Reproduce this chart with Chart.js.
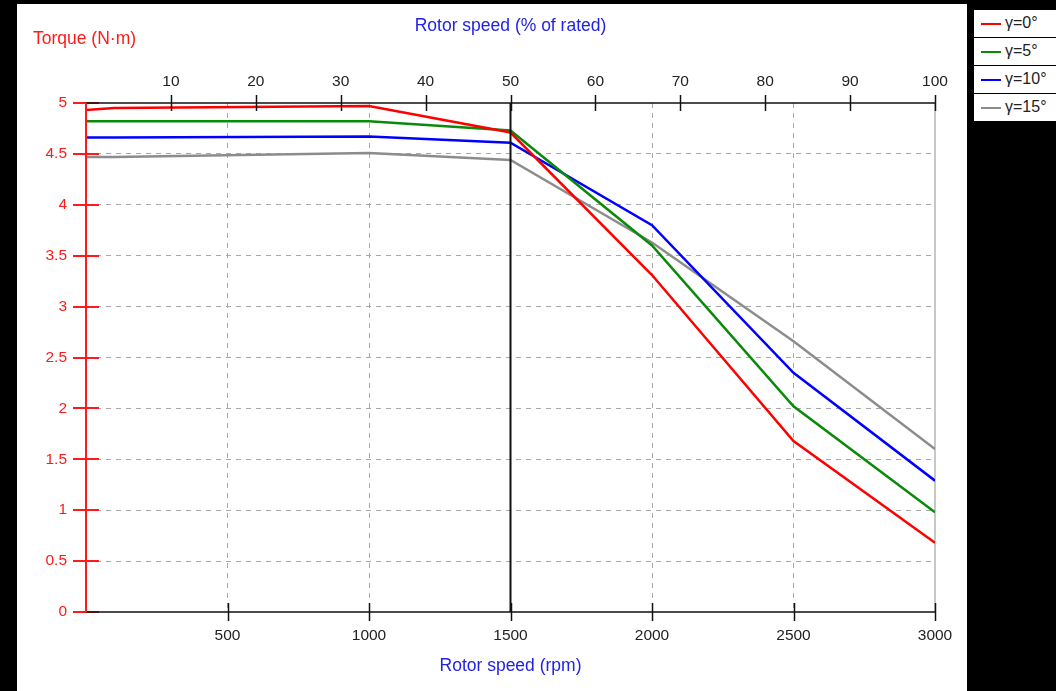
<!DOCTYPE html>
<html>
<head>
<meta charset="utf-8">
<script src="https://cdn.jsdelivr.net/npm/chart.js@4/dist/chart.umd.min.js"></script>
<style>
  html, body { margin: 0; padding: 0; background: #000; width: 1056px; height: 691px; overflow: hidden; }
  #wrap { position: absolute; left: 17px; top: 4px; width: 950px; height: 687px; background: #fff; }
  #legend { position: absolute; left: 973px; top: 9px; width: 100px; background: #fff; border: 1px solid #000;
            font-family: "Liberation Sans", Arial, sans-serif; font-size: 16px; color: #222; }
  #legend .row { height: 27px; border-bottom: 1px solid #000; position: relative; }
  #legend .row:last-child { border-bottom: none; }
  #legend .swatch { position: absolute; left: 7px; top: 13px; width: 20px; height: 2px; }
  #legend .lbl { position: absolute; left: 31px; top: 4px; }
</style>
</head>
<body>
<div id="wrap"><canvas id="torqueChart"></canvas></div>
<div id="legend"></div>
<script>
// rotor speed (rpm) and torque (N·m) per load angle
const speeds = [0, 100, 1000, 1500, 2000, 2500, 3000];
const torque0 = [4.93, 4.95, 4.97, 4.71, 3.31, 1.68, 0.68];
const torque5 = [4.82, 4.82, 4.82, 4.73, 3.60, 2.02, 0.98];
const torque10 = [4.66, 4.66, 4.67, 4.61, 3.80, 2.35, 1.29];
const torque15 = [4.47, 4.47, 4.51, 4.44, 3.63, 2.66, 1.60];
const seriesLabels = ['γ=0°', 'γ=5°', 'γ=10°', 'γ=15°'];
const seriesColors = ['#ff0000', '#0a8a0a', '#0000ff', '#8c8c8c'];
const ratedSpeed = 3000;
const markerSpeed = 1500;

const FONT = '"Liberation Sans", Arial, sans-serif';
const TEXT = '#222';
const BLUE = '#2222e6';
const RED = '#ff1a1a';

const allTorque = [torque0, torque5, torque10, torque15];
const datasets = allTorque.map((vals, i) => ({
    label: seriesLabels[i],
    data: speeds.map((s, j) => ({ x: s, y: vals[j] })),
    borderColor: seriesColors[i],
    backgroundColor: seriesColors[i],
    borderWidth: 2.5,
    pointRadius: 0,
    tension: 0,
    fill: false
}));

// legend box on the right
const legendEl = document.getElementById('legend');
seriesLabels.forEach((lab, i) => {
    const row = document.createElement('div');
    row.className = 'row';
    row.innerHTML = '<span class="swatch" style="background:' + seriesColors[i] + '"></span><span class="lbl">' + lab + '</span>';
    legendEl.appendChild(row);
});

// axes, crossing ticks, marker line and titles
const axesPlugin = {
    id: 'axesPlugin',
    beforeDatasetsDraw(chart) {
        const { ctx, chartArea: a, scales } = chart;
        const xr = scales.x.getPixelForValue(ratedSpeed);
        ctx.save();
        ctx.strokeStyle = '#b4b4b4';
        ctx.lineWidth = 1.5;
        ctx.beginPath();
        ctx.moveTo(xr, a.top);
        ctx.lineTo(xr, a.bottom);
        ctx.stroke();
        ctx.restore();
    },
    afterDatasetsDraw(chart) {
        const { ctx, chartArea: a, scales } = chart;
        ctx.save();
        // y ticks (red, crossing)
        ctx.strokeStyle = RED;
        ctx.lineWidth = 2;
        scales.y.ticks.forEach(t => {
            const py = Math.round(scales.y.getPixelForValue(t.value));
            ctx.beginPath();
            ctx.moveTo(a.left - 13, py);
            ctx.lineTo(a.left + 13, py);
            ctx.stroke();
        });
        // top and bottom axis lines
        ctx.strokeStyle = '#111';
        ctx.lineWidth = 1.5;
        ctx.beginPath();
        ctx.moveTo(a.left, a.top);
        ctx.lineTo(a.right, a.top);
        ctx.moveTo(a.left, a.bottom);
        ctx.lineTo(a.right, a.bottom);
        ctx.stroke();
        // bottom ticks
        ctx.lineWidth = 1.5;
        scales.x.ticks.forEach(t => {
            if (t.value === 0) return;
            const px = Math.round(scales.x.getPixelForValue(t.value)) + 0.5;
            ctx.beginPath();
            ctx.moveTo(px, a.bottom - 9);
            ctx.lineTo(px, a.bottom + 9);
            ctx.stroke();
        });
        // top ticks
        scales.x2.ticks.forEach(t => {
            if (t.value === 0) return;
            const px = Math.round(scales.x2.getPixelForValue(t.value)) + 0.5;
            ctx.beginPath();
            ctx.moveTo(px, a.top - 8);
            ctx.lineTo(px, a.top + 8);
            ctx.stroke();
        });
        // marker at 1500 rpm
        const xm = scales.x.getPixelForValue(markerSpeed);
        ctx.lineWidth = 2;
        ctx.beginPath();
        ctx.moveTo(xm, a.top);
        ctx.lineTo(xm, a.bottom);
        ctx.stroke();
        // left axis (red)
        ctx.strokeStyle = RED;
        ctx.lineWidth = 2;
        ctx.beginPath();
        ctx.moveTo(a.left, a.top);
        ctx.lineTo(a.left, a.bottom);
        ctx.stroke();

        // titles
        ctx.font = '17.5px ' + FONT;
        ctx.textBaseline = 'middle';
        ctx.fillStyle = RED;
        ctx.textAlign = 'left';
        ctx.fillText('Torque (N·m)', a.left - 53, a.top - 64);
        ctx.fillStyle = BLUE;
        ctx.textAlign = 'center';
        ctx.fillText('Rotor speed (% of rated)', xm, a.top - 77);
        ctx.fillText('Rotor speed (rpm)', xm, a.bottom + 54);
        ctx.restore();
    }
};

new Chart(document.getElementById('torqueChart'), {
    type: 'line',
    data: { datasets: datasets },
    options: {
        responsive: true,
        maintainAspectRatio: false,
        animation: false,
        layout: { padding: { left: 0, right: 32, top: 0, bottom: 0 } },
        plugins: {
            legend: { display: false },
            tooltip: { enabled: false }
        },
        scales: {
            x: {
                type: 'linear',
                position: 'bottom',
                min: 0,
                max: ratedSpeed,
                afterFit: s => { s.height = 79; },
                ticks: {
                    stepSize: 500,
                    padding: 14,
                    color: TEXT,
                    font: { family: FONT, size: 15.5 },
                    maxRotation: 0,
                    callback: v => (v === 0 ? '' : String(v))
                },
                grid: {
                    drawTicks: false,
                    lineWidth: 1,
                    color: c => (c.tick && (c.tick.value === 0 || c.tick.value === ratedSpeed) ? 'rgba(0,0,0,0)' : '#a8a8a8')
                },
                border: { display: false, dash: [5, 5] }
            },
            x2: {
                type: 'linear',
                position: 'top',
                min: 0,
                max: 100,
                afterFit: s => { s.height = 99; },
                ticks: {
                    stepSize: 10,
                    padding: 12,
                    color: TEXT,
                    font: { family: FONT, size: 15.5 },
                    maxRotation: 0,
                    callback: v => (v === 0 ? '' : String(v))
                },
                grid: { display: false, drawTicks: false },
                border: { display: false }
            },
            y: {
                type: 'linear',
                min: 0,
                max: 5,
                afterFit: s => { s.width = 69; },
                ticks: {
                    stepSize: 0.5,
                    padding: 19,
                    color: RED,
                    font: { family: FONT, size: 15.5 },
                    callback: v => String(v)
                },
                grid: {
                    drawTicks: false,
                    lineWidth: 1,
                    color: c => (c.tick && (c.tick.value === 0 || c.tick.value === 5) ? 'rgba(0,0,0,0)' : '#a8a8a8')
                },
                border: { display: false, dash: [5, 5] }
            }
        }
    },
    plugins: [axesPlugin]
});
</script>
</body>
</html>
